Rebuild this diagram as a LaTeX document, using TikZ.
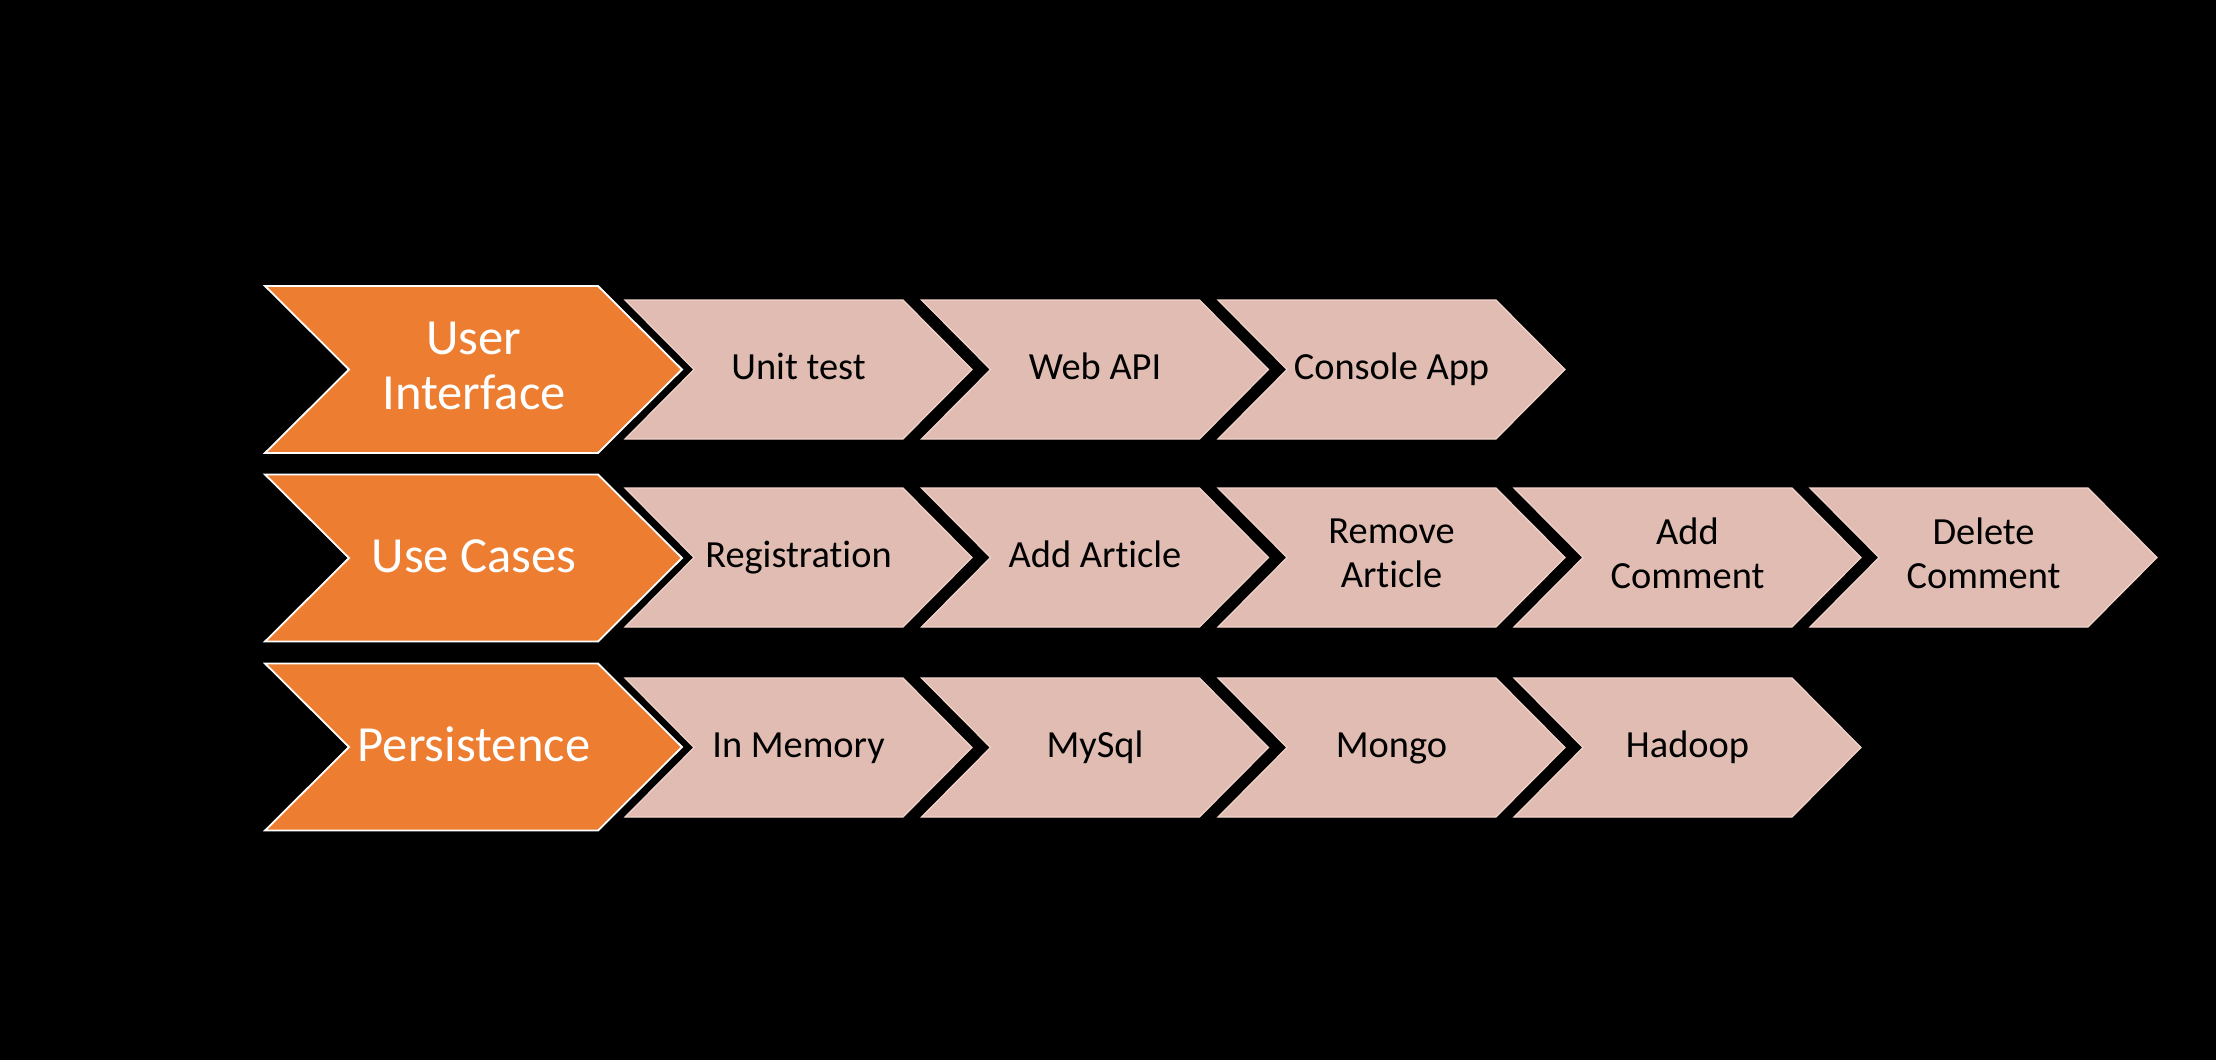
\documentclass[tikz,border=0pt]{standalone}
\usepackage{fontspec}
\setmainfont{Carlito}[Ligatures={NoCommon}]
\definecolor{chevorange}{HTML}{ED7D31}
\definecolor{chevpink}{HTML}{E0BCB2}
\definecolor{chevpinkline}{HTML}{F2D4CB}
\tikzset{
  orangefill/.style={fill=chevorange, draw=white, line width=0.9pt, line join=miter},
  pinkfill/.style={fill=chevpink, draw=chevpinkline, line width=0.6pt, line join=miter},
  orangetext/.style={text=white, font=\fontsize{25.3}{27.5}\selectfont, align=center, inner sep=0pt},
  pinktext/.style={text=black, font=\fontsize{19.2}{22}\selectfont, align=center, inner sep=0pt},
  oneline/.style={text height=9.6pt, text depth=0pt},
  oneorange/.style={text height=14pt, text depth=0pt},
  twoline/.style={yshift=2pt},
}
\newcommand\orangechevron[4]{% name, centre y, extra style, text
  \path[orangefill] (265,{#2-83.5}) -- (598,{#2-83.5}) -- (682,#2) -- (598,{#2+83.5}) -- (265,{#2+83.5}) -- (349,#2) -- cycle;
  \node[orangetext,#3] (#1) at (474,#2) {#4};}
\newcommand\pinkchevron[5]{% name, left x, centre y, extra style, text
  \path[pinkfill] (#2,{#3-69.5}) -- ({#2+278},{#3-69.5}) -- ({#2+347},#3) -- ({#2+278},{#3+69.5}) -- (#2,{#3+69.5}) -- ({#2+69},#3) -- cycle;
  \node[pinktext,#4] (#1) at ({#2+173.5},#3) {#5};}
\begin{document}
\begin{tikzpicture}[x=0.5pt,y=-0.5pt]
  \fill[black] (0,0) rectangle (2216,1060);
  \useasboundingbox (0,0) rectangle (2216,1060);
  % row 1
  \orangechevron{ui}{369.5}{twoline}{User\\Interface}
  \pinkchevron{unittest}{625}{369.5}{oneline}{Unit test}
  \pinkchevron{webapi}{921.5}{369.5}{oneline}{Web API}
  \pinkchevron{console}{1218}{369.5}{oneline}{Console App}
  % row 2
  \orangechevron{usecases}{558}{oneorange}{Use Cases}
  \pinkchevron{registration}{625}{557.5}{oneline}{Registration}
  \pinkchevron{addarticle}{921.5}{557.5}{oneline}{Add Article}
  \pinkchevron{removearticle}{1218}{557.5}{twoline}{Remove\\Article}
  \pinkchevron{addcomment}{1514}{557.5}{twoline}{Add\\Comment}
  \pinkchevron{deletecomment}{1810}{557.5}{twoline}{Delete\\Comment}
  % row 3
  \orangechevron{persistence}{747}{oneorange}{Persistence}
  \pinkchevron{inmemory}{625}{747.5}{oneline}{In Memory}
  \pinkchevron{mysql}{921.5}{747.5}{oneline}{MySql}
  \pinkchevron{mongo}{1218}{747.5}{oneline}{Mongo}
  \pinkchevron{hadoop}{1514}{747.5}{oneline}{Hadoop}
\end{tikzpicture}
\end{document}
